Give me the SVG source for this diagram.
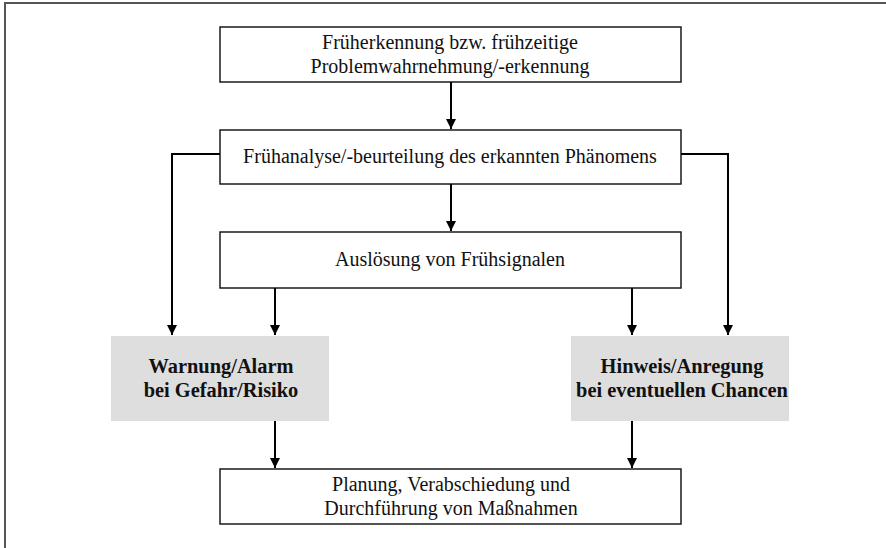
<svg xmlns="http://www.w3.org/2000/svg" width="886" height="548" viewBox="0 0 886 548">
  <style>
    .box { fill: #ffffff; stroke: #1a1a1a; stroke-width: 1.5; }
    .shade { fill: #dedede; stroke: none; }
    .t { font-family: "Liberation Serif", "Times New Roman", serif; font-size: 20px; fill: #111; text-anchor: middle; }
    .b { font-weight: bold; font-size: 20.4px; }
    .wire { fill: none; stroke: #000; stroke-width: 2; }
  </style>
  <defs>
    <marker id="tip" viewBox="0 0 10 10" refX="10" refY="5" markerWidth="10" markerHeight="10" markerUnits="userSpaceOnUse" orient="auto">
      <path d="M0,0 L10,5 L0,10 Z" fill="#000"/>
    </marker>
  </defs>

  <rect width="886" height="548" fill="#ffffff"/>
  <!-- frame -->
  <path d="M5,548 V3 H886" fill="none" stroke="#555" stroke-width="2"/>

  <g id="n1">
    <rect class="box" x="220" y="27" width="461" height="55"/>
    <text class="t" x="450" y="49">Früherkennung bzw. frühzeitige</text>
    <text class="t" x="450" y="73">Problemwahrnehmung/-erkennung</text>
  </g>
  <g id="n2">
    <rect class="box" x="220" y="130" width="461" height="54"/>
    <text class="t" x="450" y="163">Frühanalyse/-beurteilung des erkannten Phänomens</text>
  </g>
  <g id="n3">
    <rect class="box" x="220" y="232" width="461" height="56"/>
    <text class="t" x="450" y="266">Auslösung von Frühsignalen</text>
  </g>
  <g id="n4">
    <rect class="shade" x="111" y="336" width="218" height="85"/>
    <text class="t b" x="221" y="373">Warnung/Alarm</text>
    <text class="t b" x="221" y="397">bei Gefahr/Risiko</text>
  </g>
  <g id="n5">
    <rect class="shade" x="571" y="336" width="218" height="85"/>
    <text class="t b" x="682" y="373">Hinweis/Anregung</text>
    <text class="t b" x="682" y="397">bei eventuellen Chancen</text>
  </g>
  <g id="n6">
    <rect class="box" x="220" y="469" width="461" height="55"/>
    <text class="t" x="451" y="491">Planung, Verabschiedung und</text>
    <text class="t" x="451" y="515">Durchführung von Maßnahmen</text>
  </g>

  <g id="connectors" class="wire" marker-end="url(#tip)">
    <path d="M451,82 V129"/>
    <path d="M451,184 V231"/>
    <path d="M220,154 H172 V335"/>
    <path d="M681,154 H728 V335"/>
    <path d="M275,288 V335"/>
    <path d="M632,288 V335"/>
    <path d="M275,421 V468"/>
    <path d="M632,421 V468"/>
  </g>
</svg>
